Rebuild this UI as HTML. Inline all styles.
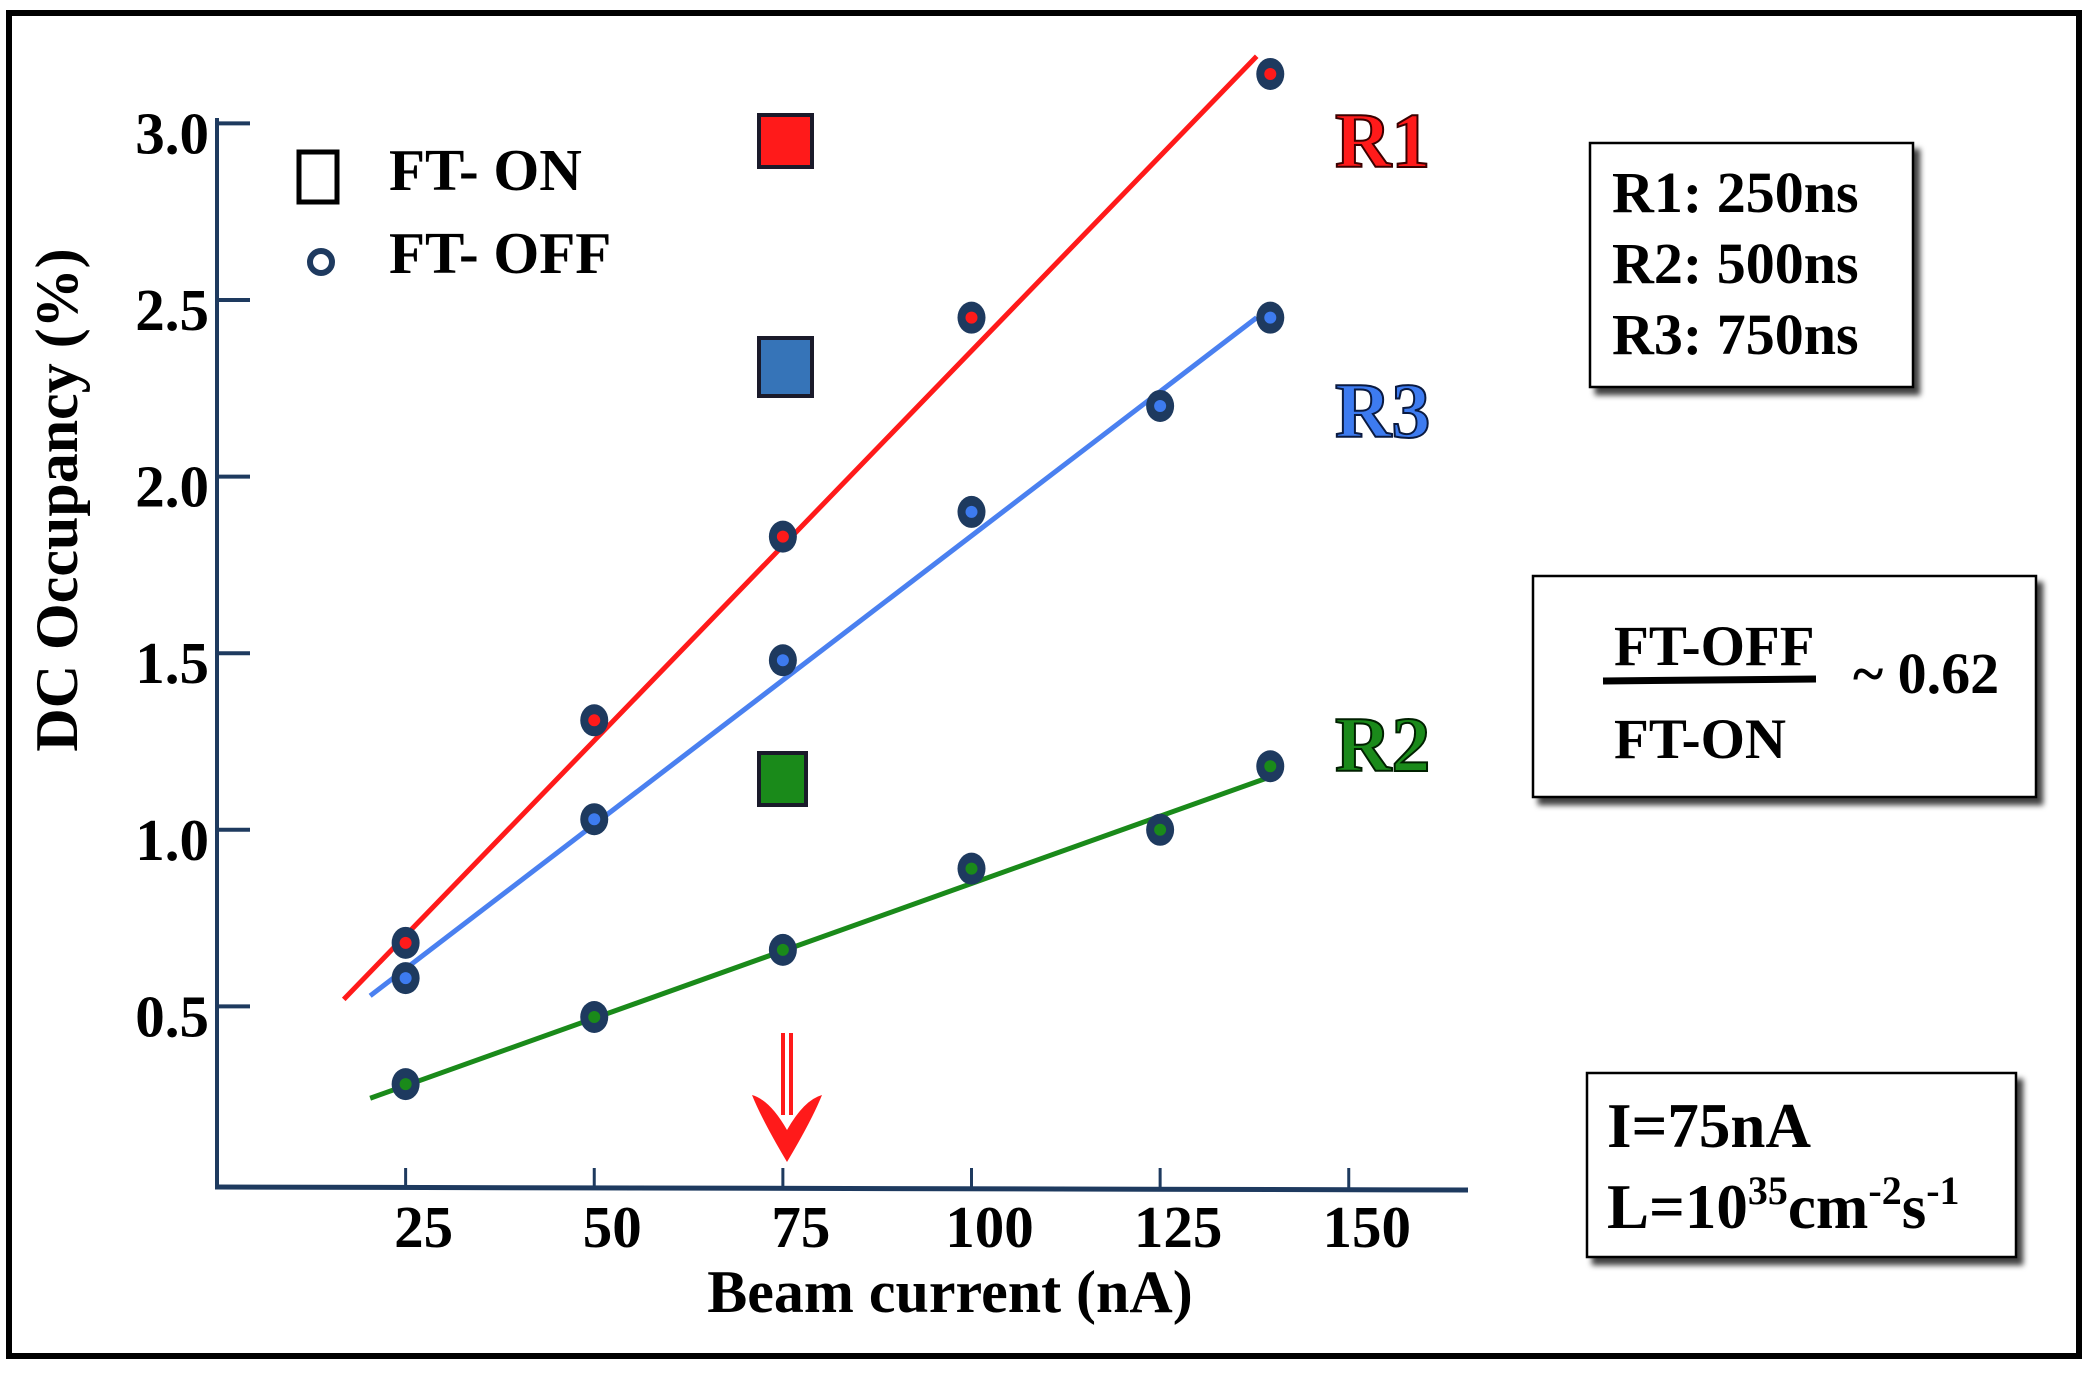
<!DOCTYPE html>
<html><head><meta charset="utf-8">
<style>
html,body{margin:0;padding:0;background:#fff;}
svg{display:block;}
text{font-family:"Liberation Serif",serif;font-weight:bold;}
</style></head>
<body>
<svg id="chart" width="2084" height="1374" viewBox="0 0 2084 1374" xmlns="http://www.w3.org/2000/svg">
<defs>
<filter id="sh" x="-10%" y="-10%" width="130%" height="130%"><feDropShadow dx="6" dy="7" stdDeviation="3" flood-color="#000" flood-opacity="0.75"/></filter>
</defs>
<rect x="9" y="13" width="2070" height="1343" fill="#fff" stroke="#000" stroke-width="6"/>
<g id="axes"></g>
<g id="lines"></g>
<g id="points"></g>

<text x="63" y="500" font-size="60" text-anchor="middle" transform="rotate(-90 63 500)" dominant-baseline="middle">DC Occupancy (%)</text>
<text x="950" y="1312" font-size="60" text-anchor="middle">Beam current (nA)</text>

<g>
<rect x="299" y="152" width="38" height="50" fill="none" stroke="#000" stroke-width="5"/>
<text x="389" y="190" font-size="59">FT- ON</text>
<circle cx="321" cy="262" r="11" fill="none" stroke="#1e3a5f" stroke-width="6"/>
<text x="389" y="273" font-size="59">FT- OFF</text>
</g>

<rect x="759" y="115" width="53" height="52" fill="#ff1a1a" stroke="#1a1a2a" stroke-width="4"/>
<rect x="759" y="338" width="53" height="58" fill="#3674b8" stroke="#1a1a2a" stroke-width="4"/>
<rect x="759" y="753" width="47" height="52" fill="#1a8a1a" stroke="#1a1a2a" stroke-width="4"/>

<text x="1335" y="167" font-size="78" fill="#ff1a1a" stroke="#3a0000" stroke-width="2">R1</text>
<text x="1335" y="437" font-size="78" fill="#3d7bf0" stroke="#0a1a40" stroke-width="2">R3</text>
<text x="1335" y="771" font-size="78" fill="#1a8a1a" stroke="#002000" stroke-width="2">R2</text>

<g>
<line x1="783" y1="1033" x2="783" y2="1115" stroke="#ff1a1a" stroke-width="4"/>
<line x1="791" y1="1033" x2="791" y2="1115" stroke="#ff1a1a" stroke-width="4"/>
<path d="M752 1095 Q770 1100 787 1130 Q804 1100 822 1095 Q812 1120 787 1162 Q762 1120 752 1095 Z" fill="#ff1a1a"/>
</g>

<g>
<rect x="1590" y="143" width="323" height="244" fill="#fff" stroke="#000" stroke-width="2.5" filter="url(#sh)"/>
<text x="1612" y="212" font-size="58">R1: 250ns</text>
<text x="1612" y="283" font-size="58">R2: 500ns</text>
<text x="1612" y="354" font-size="58">R3: 750ns</text>
</g>

<g>
<rect x="1533" y="576" width="503" height="221" fill="#fff" stroke="#000" stroke-width="2.5" filter="url(#sh)"/>
<text x="1614" y="665" font-size="57">FT-OFF</text>
<line x1="1603" y1="681" x2="1816" y2="679" stroke="#000" stroke-width="7"/>
<text x="1614" y="758" font-size="57">FT-ON</text>
<text x="1853" y="693" font-size="58">~ 0.62</text>
</g>

<g>
<rect x="1587" y="1073" width="429" height="184" fill="#fff" stroke="#000" stroke-width="2.5" filter="url(#sh)"/>
<text x="1607" y="1147" font-size="63">I=75nA</text>
<text x="1607" y="1228" font-size="63">L=10<tspan font-size="40" dy="-24">35</tspan><tspan dy="24">cm</tspan><tspan font-size="40" dy="-24">-2</tspan><tspan dy="24">s</tspan><tspan font-size="40" dy="-24">-1</tspan></text>
</g>

<script>
const xTicks = [25, 50, 75, 100, 125, 150];
const yTicks = [0.5, 1.0, 1.5, 2.0, 2.5, 3.0];
const yTickLabels = ["0.5", "1.0", "1.5", "2.0", "2.5", "3.0"];
const r1X = [25, 50, 75, 100, 139.6];
const r1Y = [0.68, 1.31, 1.83, 2.45, 3.14];
const r3X = [25, 50, 75, 100, 125, 139.6];
const r3Y = [0.58, 1.03, 1.48, 1.90, 2.20, 2.45];
const r2X = [25, 50, 75, 100, 125, 139.6];
const r2Y = [0.28, 0.47, 0.66, 0.89, 1.00, 1.18];
const r1Fit = [[16.8, 0.52], [137.8, 3.19]];
const r3Fit = [[20.3, 0.53], [137.8, 2.45]];
const r2Fit = [[20.3, 0.24], [139.6, 1.15]];

const NS = "http://www.w3.org/2000/svg";
function xs(v){ return 217 + v * 7.545; }
function ys(v){ return 1183 - v * 353.2; }
function mk(tag, attrs, parent){ const e=document.createElementNS(NS, tag); for(const k in attrs) e.setAttribute(k, attrs[k]); parent.appendChild(e); return e; }

const axes = document.getElementById('axes');
let a = mk('line', {x1:217, y1:118, x2:217, y2:1188, stroke:'#1e3a5f', 'stroke-width':4}, axes);


a = mk('line', {x1:215, y1:1187, x2:1468, y2:1190, stroke:'#1e3a5f', 'stroke-width':5}, axes);


yTicks.forEach((v, i) => {
  const t = mk('line', {x1:217, y1:ys(v), x2:250, y2:ys(v), stroke:'#1e3a5f', 'stroke-width':4}, axes);
  
  
  const l = mk('text', {x:209, y:ys(v)+30, 'font-size':59, 'text-anchor':'end'}, axes);
  l.textContent = yTickLabels[i];
  
  
});
xTicks.forEach(v => {
  const t = mk('line', {x1:xs(v), y1:1188, x2:xs(v), y2:1168, stroke:'#1e3a5f', 'stroke-width':3}, axes);
  
  
  const l = mk('text', {x:xs(v)+18, y:1247, 'font-size':59, 'text-anchor':'middle'}, axes);
  l.textContent = String(v);
  
  
});

const lines = document.getElementById('lines');
const points = document.getElementById('points');
const series = [
  {name:'r1', xv:r1X, yv:r1Y, fit:r1Fit, col:'#ff1a1a', lc:'#ff1a1a'},
  {name:'r3', xv:r3X, yv:r3Y, fit:r3Fit, col:'#3d7bf0', lc:'#4a80f0'},
  {name:'r2', xv:r2X, yv:r2Y, fit:r2Fit, col:'#1a8a1a', lc:'#1a8a1a'}
];
series.forEach(s => {
  s.xv.forEach((x, i) => {
    const c = mk('ellipse', {cx:xs(x), cy:ys(s.yv[i]), rx:14, ry:16, fill:'#1e3a5f'}, points);
    
    
  });
  const ln = mk('line', {x1:xs(s.fit[0][0]), y1:ys(s.fit[0][1]), x2:xs(s.fit[1][0]), y2:ys(s.fit[1][1]), stroke:s.lc, 'stroke-width':5}, lines);
  
  
  s.xv.forEach((x, i) => {
    const d = mk('circle', {cx:xs(x), cy:ys(s.yv[i]), r:6, fill:s.col}, points);
    
    
  });
});
</script>
</svg>
</body></html>
